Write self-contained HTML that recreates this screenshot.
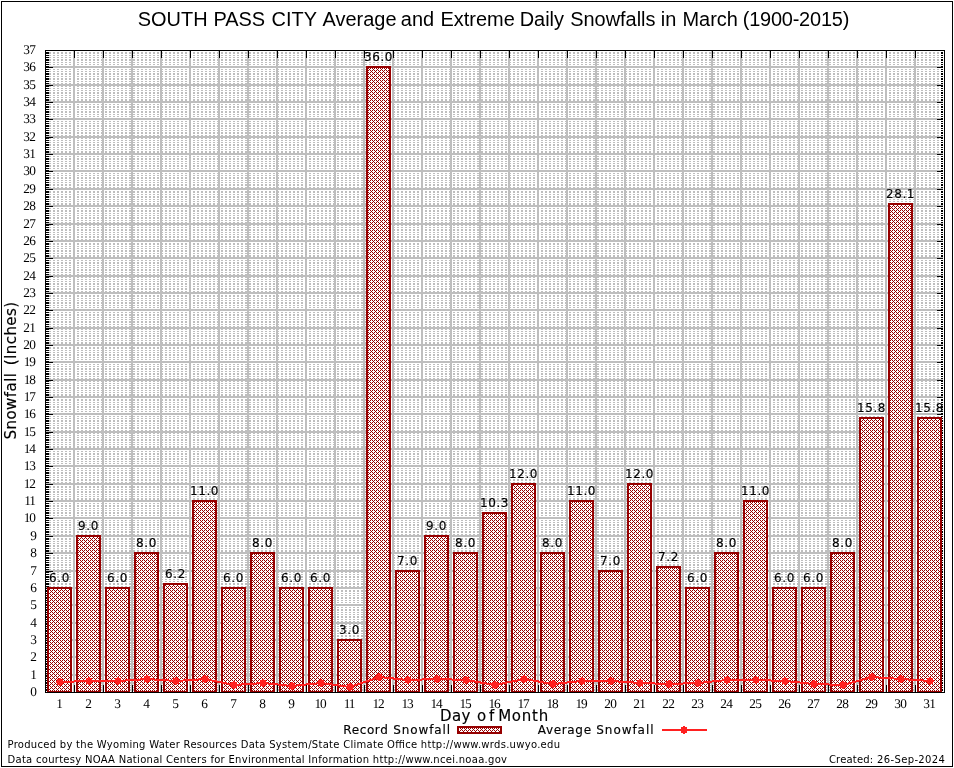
<!DOCTYPE html>
<html lang="en"><head><meta charset="utf-8"><title>SOUTH PASS CITY Average and Extreme Daily Snowfalls in March (1900-2015)</title>
<style>html,body{margin:0;padding:0;background:#fff;}svg{display:block;}text{fill:#000;}</style></head><body>
<svg width="954" height="768" viewBox="0 0 954 768">
<defs><pattern id="hatch" x="0" y="0" width="4" height="4" patternUnits="userSpaceOnUse"><path d="M0 0h1v1h-1zM2 0h1v1h-1zM1 1h1v1h-1zM0 2h1v1h-1zM2 2h1v1h-1zM3 3h1v1h-1z" fill="#960000"/></pattern></defs>
<rect width="954" height="768" fill="#fff"/>
<g shape-rendering="crispEdges">
<path d="M1.5 1.5H952.5V766.5H1.5Z" fill="none" stroke="#000" stroke-width="1"/>
<path d="M45 690.5H944M45 689.5H944M45 687.5H944M45 685.5H944M45 683.5H944M45 682.5H944M45 680.5H944M45 678.5H944M45 676.5H944M45 673.5H944M45 671.5H944M45 669.5H944M45 668.5H944M45 666.5H944M45 664.5H944M45 663.5H944M45 661.5H944M45 659.5H944M45 656.5H944M45 654.5H944M45 652.5H944M45 650.5H944M45 649.5H944M45 647.5H944M45 645.5H944M45 643.5H944M45 642.5H944M45 638.5H944M45 636.5H944M45 635.5H944M45 633.5H944M45 631.5H944M45 630.5H944M45 628.5H944M45 626.5H944M45 624.5H944M45 621.5H944M45 619.5H944M45 617.5H944M45 616.5H944M45 614.5H944M45 612.5H944M45 610.5H944M45 609.5H944M45 607.5H944M45 604.5H944M45 602.5H944M45 600.5H944M45 598.5H944M45 597.5H944M45 595.5H944M45 593.5H944M45 591.5H944M45 590.5H944M45 586.5H944M45 584.5H944M45 583.5H944M45 581.5H944M45 579.5H944M45 577.5H944M45 576.5H944M45 574.5H944M45 572.5H944M45 569.5H944M45 567.5H944M45 565.5H944M45 564.5H944M45 562.5H944M45 560.5H944M45 558.5H944M45 557.5H944M45 555.5H944M45 551.5H944M45 550.5H944M45 548.5H944M45 546.5H944M45 545.5H944M45 543.5H944M45 541.5H944M45 539.5H944M45 538.5H944M45 534.5H944M45 532.5H944M45 531.5H944M45 529.5H944M45 527.5H944M45 525.5H944M45 524.5H944M45 522.5H944M45 520.5H944M45 517.5H944M45 515.5H944M45 513.5H944M45 512.5H944M45 510.5H944M45 508.5H944M45 506.5H944M45 505.5H944M45 503.5H944M45 499.5H944M45 498.5H944M45 496.5H944M45 494.5H944M45 492.5H944M45 491.5H944M45 489.5H944M45 487.5H944M45 486.5H944M45 482.5H944M45 480.5H944M45 479.5H944M45 477.5H944M45 475.5H944M45 473.5H944M45 472.5H944M45 470.5H944M45 468.5H944M45 465.5H944M45 463.5H944M45 461.5H944M45 459.5H944M45 458.5H944M45 456.5H944M45 454.5H944M45 453.5H944M45 451.5H944M45 447.5H944M45 446.5H944M45 444.5H944M45 442.5H944M45 440.5H944M45 439.5H944M45 437.5H944M45 435.5H944M45 433.5H944M45 430.5H944M45 428.5H944M45 427.5H944M45 425.5H944M45 423.5H944M45 421.5H944M45 420.5H944M45 418.5H944M45 416.5H944M45 413.5H944M45 411.5H944M45 409.5H944M45 407.5H944M45 406.5H944M45 404.5H944M45 402.5H944M45 400.5H944M45 399.5H944M45 395.5H944M45 394.5H944M45 392.5H944M45 390.5H944M45 388.5H944M45 387.5H944M45 385.5H944M45 383.5H944M45 381.5H944M45 378.5H944M45 376.5H944M45 374.5H944M45 373.5H944M45 371.5H944M45 369.5H944M45 368.5H944M45 366.5H944M45 364.5H944M45 361.5H944M45 359.5H944M45 357.5H944M45 355.5H944M45 354.5H944M45 352.5H944M45 350.5H944M45 348.5H944M45 347.5H944M45 343.5H944M45 342.5H944M45 340.5H944M45 338.5H944M45 336.5H944M45 335.5H944M45 333.5H944M45 331.5H944M45 329.5H944M45 326.5H944M45 324.5H944M45 322.5H944M45 321.5H944M45 319.5H944M45 317.5H944M45 315.5H944M45 314.5H944M45 312.5H944M45 309.5H944M45 307.5H944M45 305.5H944M45 303.5H944M45 302.5H944M45 300.5H944M45 298.5H944M45 296.5H944M45 295.5H944M45 291.5H944M45 289.5H944M45 288.5H944M45 286.5H944M45 284.5H944M45 283.5H944M45 281.5H944M45 279.5H944M45 277.5H944M45 274.5H944M45 272.5H944M45 270.5H944M45 269.5H944M45 267.5H944M45 265.5H944M45 263.5H944M45 262.5H944M45 260.5H944M45 256.5H944M45 255.5H944M45 253.5H944M45 251.5H944M45 250.5H944M45 248.5H944M45 246.5H944M45 244.5H944M45 243.5H944M45 239.5H944M45 237.5H944M45 236.5H944M45 234.5H944M45 232.5H944M45 230.5H944M45 229.5H944M45 227.5H944M45 225.5H944M45 222.5H944M45 220.5H944M45 218.5H944M45 217.5H944M45 215.5H944M45 213.5H944M45 211.5H944M45 210.5H944M45 208.5H944M45 204.5H944M45 203.5H944M45 201.5H944M45 199.5H944M45 197.5H944M45 196.5H944M45 194.5H944M45 192.5H944M45 191.5H944M45 187.5H944M45 185.5H944M45 184.5H944M45 182.5H944M45 180.5H944M45 178.5H944M45 177.5H944M45 175.5H944M45 173.5H944M45 170.5H944M45 168.5H944M45 166.5H944M45 165.5H944M45 163.5H944M45 161.5H944M45 159.5H944M45 158.5H944M45 156.5H944M45 152.5H944M45 151.5H944M45 149.5H944M45 147.5H944M45 145.5H944M45 144.5H944M45 142.5H944M45 140.5H944M45 138.5H944M45 135.5H944M45 133.5H944M45 132.5H944M45 130.5H944M45 128.5H944M45 126.5H944M45 125.5H944M45 123.5H944M45 121.5H944M45 118.5H944M45 116.5H944M45 114.5H944M45 112.5H944M45 111.5H944M45 109.5H944M45 107.5H944M45 106.5H944M45 104.5H944M45 100.5H944M45 99.5H944M45 97.5H944M45 95.5H944M45 93.5H944M45 92.5H944M45 90.5H944M45 88.5H944M45 86.5H944M45 83.5H944M45 81.5H944M45 79.5H944M45 78.5H944M45 76.5H944M45 74.5H944M45 73.5H944M45 71.5H944M45 69.5H944M45 66.5H944M45 64.5H944M45 62.5H944M45 60.5H944M45 59.5H944M45 57.5H944M45 55.5H944M45 53.5H944M45 52.5H944" fill="none" stroke="#bebebe" stroke-width="1" stroke-dasharray="2 2"/>
<path d="M45 675H944M45 657H944M45 640H944M45 623H944M45 605H944M45 588H944M45 571H944M45 553H944M45 536H944M45 518H944M45 501H944M45 484H944M45 466H944M45 449H944M45 432H944M45 414H944M45 397H944M45 380H944M45 362H944M45 345H944M45 328H944M45 310H944M45 293H944M45 276H944M45 258H944M45 241H944M45 224H944M45 206H944M45 189H944M45 171H944M45 154H944M45 137H944M45 119H944M45 102H944M45 85H944M45 67H944M74 50V692M103 50V692M132 50V692M161 50V692M190 50V692M219 50V692M248 50V692M277 50V692M306 50V692M335 50V692M364 50V692M393 50V692M422 50V692M451 50V692M480 50V692M509 50V692M538 50V692M567 50V692M596 50V692M625 50V692M654 50V692M683 50V692M712 50V692M741 50V692M770 50V692M799 50V692M828 50V692M857 50V692M886 50V692M915 50V692" fill="none" stroke="#bebebe" stroke-width="2"/>
<path d="M46 690.5h3M941 690.5h2M46 689.5h3M941 689.5h2M46 687.5h3M941 687.5h2M46 685.5h3M941 685.5h2M46 683.5h3M941 683.5h2M46 682.5h3M941 682.5h2M46 680.5h3M941 680.5h2M46 678.5h3M941 678.5h2M46 676.5h3M941 676.5h2M46 673.5h3M941 673.5h2M46 671.5h3M941 671.5h2M46 669.5h3M941 669.5h2M46 668.5h3M941 668.5h2M46 666.5h3M941 666.5h2M46 664.5h3M941 664.5h2M46 663.5h3M941 663.5h2M46 661.5h3M941 661.5h2M46 659.5h3M941 659.5h2M46 656.5h3M941 656.5h2M46 654.5h3M941 654.5h2M46 652.5h3M941 652.5h2M46 650.5h3M941 650.5h2M46 649.5h3M941 649.5h2M46 647.5h3M941 647.5h2M46 645.5h3M941 645.5h2M46 643.5h3M941 643.5h2M46 642.5h3M941 642.5h2M46 638.5h3M941 638.5h2M46 636.5h3M941 636.5h2M46 635.5h3M941 635.5h2M46 633.5h3M941 633.5h2M46 631.5h3M941 631.5h2M46 630.5h3M941 630.5h2M46 628.5h3M941 628.5h2M46 626.5h3M941 626.5h2M46 624.5h3M941 624.5h2M46 621.5h3M941 621.5h2M46 619.5h3M941 619.5h2M46 617.5h3M941 617.5h2M46 616.5h3M941 616.5h2M46 614.5h3M941 614.5h2M46 612.5h3M941 612.5h2M46 610.5h3M941 610.5h2M46 609.5h3M941 609.5h2M46 607.5h3M941 607.5h2M46 604.5h3M941 604.5h2M46 602.5h3M941 602.5h2M46 600.5h3M941 600.5h2M46 598.5h3M941 598.5h2M46 597.5h3M941 597.5h2M46 595.5h3M941 595.5h2M46 593.5h3M941 593.5h2M46 591.5h3M941 591.5h2M46 590.5h3M941 590.5h2M46 586.5h3M941 586.5h2M46 584.5h3M941 584.5h2M46 583.5h3M941 583.5h2M46 581.5h3M941 581.5h2M46 579.5h3M941 579.5h2M46 577.5h3M941 577.5h2M46 576.5h3M941 576.5h2M46 574.5h3M941 574.5h2M46 572.5h3M941 572.5h2M46 569.5h3M941 569.5h2M46 567.5h3M941 567.5h2M46 565.5h3M941 565.5h2M46 564.5h3M941 564.5h2M46 562.5h3M941 562.5h2M46 560.5h3M941 560.5h2M46 558.5h3M941 558.5h2M46 557.5h3M941 557.5h2M46 555.5h3M941 555.5h2M46 551.5h3M941 551.5h2M46 550.5h3M941 550.5h2M46 548.5h3M941 548.5h2M46 546.5h3M941 546.5h2M46 545.5h3M941 545.5h2M46 543.5h3M941 543.5h2M46 541.5h3M941 541.5h2M46 539.5h3M941 539.5h2M46 538.5h3M941 538.5h2M46 534.5h3M941 534.5h2M46 532.5h3M941 532.5h2M46 531.5h3M941 531.5h2M46 529.5h3M941 529.5h2M46 527.5h3M941 527.5h2M46 525.5h3M941 525.5h2M46 524.5h3M941 524.5h2M46 522.5h3M941 522.5h2M46 520.5h3M941 520.5h2M46 517.5h3M941 517.5h2M46 515.5h3M941 515.5h2M46 513.5h3M941 513.5h2M46 512.5h3M941 512.5h2M46 510.5h3M941 510.5h2M46 508.5h3M941 508.5h2M46 506.5h3M941 506.5h2M46 505.5h3M941 505.5h2M46 503.5h3M941 503.5h2M46 499.5h3M941 499.5h2M46 498.5h3M941 498.5h2M46 496.5h3M941 496.5h2M46 494.5h3M941 494.5h2M46 492.5h3M941 492.5h2M46 491.5h3M941 491.5h2M46 489.5h3M941 489.5h2M46 487.5h3M941 487.5h2M46 486.5h3M941 486.5h2M46 482.5h3M941 482.5h2M46 480.5h3M941 480.5h2M46 479.5h3M941 479.5h2M46 477.5h3M941 477.5h2M46 475.5h3M941 475.5h2M46 473.5h3M941 473.5h2M46 472.5h3M941 472.5h2M46 470.5h3M941 470.5h2M46 468.5h3M941 468.5h2M46 465.5h3M941 465.5h2M46 463.5h3M941 463.5h2M46 461.5h3M941 461.5h2M46 459.5h3M941 459.5h2M46 458.5h3M941 458.5h2M46 456.5h3M941 456.5h2M46 454.5h3M941 454.5h2M46 453.5h3M941 453.5h2M46 451.5h3M941 451.5h2M46 447.5h3M941 447.5h2M46 446.5h3M941 446.5h2M46 444.5h3M941 444.5h2M46 442.5h3M941 442.5h2M46 440.5h3M941 440.5h2M46 439.5h3M941 439.5h2M46 437.5h3M941 437.5h2M46 435.5h3M941 435.5h2M46 433.5h3M941 433.5h2M46 430.5h3M941 430.5h2M46 428.5h3M941 428.5h2M46 427.5h3M941 427.5h2M46 425.5h3M941 425.5h2M46 423.5h3M941 423.5h2M46 421.5h3M941 421.5h2M46 420.5h3M941 420.5h2M46 418.5h3M941 418.5h2M46 416.5h3M941 416.5h2M46 413.5h3M941 413.5h2M46 411.5h3M941 411.5h2M46 409.5h3M941 409.5h2M46 407.5h3M941 407.5h2M46 406.5h3M941 406.5h2M46 404.5h3M941 404.5h2M46 402.5h3M941 402.5h2M46 400.5h3M941 400.5h2M46 399.5h3M941 399.5h2M46 395.5h3M941 395.5h2M46 394.5h3M941 394.5h2M46 392.5h3M941 392.5h2M46 390.5h3M941 390.5h2M46 388.5h3M941 388.5h2M46 387.5h3M941 387.5h2M46 385.5h3M941 385.5h2M46 383.5h3M941 383.5h2M46 381.5h3M941 381.5h2M46 378.5h3M941 378.5h2M46 376.5h3M941 376.5h2M46 374.5h3M941 374.5h2M46 373.5h3M941 373.5h2M46 371.5h3M941 371.5h2M46 369.5h3M941 369.5h2M46 368.5h3M941 368.5h2M46 366.5h3M941 366.5h2M46 364.5h3M941 364.5h2M46 361.5h3M941 361.5h2M46 359.5h3M941 359.5h2M46 357.5h3M941 357.5h2M46 355.5h3M941 355.5h2M46 354.5h3M941 354.5h2M46 352.5h3M941 352.5h2M46 350.5h3M941 350.5h2M46 348.5h3M941 348.5h2M46 347.5h3M941 347.5h2M46 343.5h3M941 343.5h2M46 342.5h3M941 342.5h2M46 340.5h3M941 340.5h2M46 338.5h3M941 338.5h2M46 336.5h3M941 336.5h2M46 335.5h3M941 335.5h2M46 333.5h3M941 333.5h2M46 331.5h3M941 331.5h2M46 329.5h3M941 329.5h2M46 326.5h3M941 326.5h2M46 324.5h3M941 324.5h2M46 322.5h3M941 322.5h2M46 321.5h3M941 321.5h2M46 319.5h3M941 319.5h2M46 317.5h3M941 317.5h2M46 315.5h3M941 315.5h2M46 314.5h3M941 314.5h2M46 312.5h3M941 312.5h2M46 309.5h3M941 309.5h2M46 307.5h3M941 307.5h2M46 305.5h3M941 305.5h2M46 303.5h3M941 303.5h2M46 302.5h3M941 302.5h2M46 300.5h3M941 300.5h2M46 298.5h3M941 298.5h2M46 296.5h3M941 296.5h2M46 295.5h3M941 295.5h2M46 291.5h3M941 291.5h2M46 289.5h3M941 289.5h2M46 288.5h3M941 288.5h2M46 286.5h3M941 286.5h2M46 284.5h3M941 284.5h2M46 283.5h3M941 283.5h2M46 281.5h3M941 281.5h2M46 279.5h3M941 279.5h2M46 277.5h3M941 277.5h2M46 274.5h3M941 274.5h2M46 272.5h3M941 272.5h2M46 270.5h3M941 270.5h2M46 269.5h3M941 269.5h2M46 267.5h3M941 267.5h2M46 265.5h3M941 265.5h2M46 263.5h3M941 263.5h2M46 262.5h3M941 262.5h2M46 260.5h3M941 260.5h2M46 256.5h3M941 256.5h2M46 255.5h3M941 255.5h2M46 253.5h3M941 253.5h2M46 251.5h3M941 251.5h2M46 250.5h3M941 250.5h2M46 248.5h3M941 248.5h2M46 246.5h3M941 246.5h2M46 244.5h3M941 244.5h2M46 243.5h3M941 243.5h2M46 239.5h3M941 239.5h2M46 237.5h3M941 237.5h2M46 236.5h3M941 236.5h2M46 234.5h3M941 234.5h2M46 232.5h3M941 232.5h2M46 230.5h3M941 230.5h2M46 229.5h3M941 229.5h2M46 227.5h3M941 227.5h2M46 225.5h3M941 225.5h2M46 222.5h3M941 222.5h2M46 220.5h3M941 220.5h2M46 218.5h3M941 218.5h2M46 217.5h3M941 217.5h2M46 215.5h3M941 215.5h2M46 213.5h3M941 213.5h2M46 211.5h3M941 211.5h2M46 210.5h3M941 210.5h2M46 208.5h3M941 208.5h2M46 204.5h3M941 204.5h2M46 203.5h3M941 203.5h2M46 201.5h3M941 201.5h2M46 199.5h3M941 199.5h2M46 197.5h3M941 197.5h2M46 196.5h3M941 196.5h2M46 194.5h3M941 194.5h2M46 192.5h3M941 192.5h2M46 191.5h3M941 191.5h2M46 187.5h3M941 187.5h2M46 185.5h3M941 185.5h2M46 184.5h3M941 184.5h2M46 182.5h3M941 182.5h2M46 180.5h3M941 180.5h2M46 178.5h3M941 178.5h2M46 177.5h3M941 177.5h2M46 175.5h3M941 175.5h2M46 173.5h3M941 173.5h2M46 170.5h3M941 170.5h2M46 168.5h3M941 168.5h2M46 166.5h3M941 166.5h2M46 165.5h3M941 165.5h2M46 163.5h3M941 163.5h2M46 161.5h3M941 161.5h2M46 159.5h3M941 159.5h2M46 158.5h3M941 158.5h2M46 156.5h3M941 156.5h2M46 152.5h3M941 152.5h2M46 151.5h3M941 151.5h2M46 149.5h3M941 149.5h2M46 147.5h3M941 147.5h2M46 145.5h3M941 145.5h2M46 144.5h3M941 144.5h2M46 142.5h3M941 142.5h2M46 140.5h3M941 140.5h2M46 138.5h3M941 138.5h2M46 135.5h3M941 135.5h2M46 133.5h3M941 133.5h2M46 132.5h3M941 132.5h2M46 130.5h3M941 130.5h2M46 128.5h3M941 128.5h2M46 126.5h3M941 126.5h2M46 125.5h3M941 125.5h2M46 123.5h3M941 123.5h2M46 121.5h3M941 121.5h2M46 118.5h3M941 118.5h2M46 116.5h3M941 116.5h2M46 114.5h3M941 114.5h2M46 112.5h3M941 112.5h2M46 111.5h3M941 111.5h2M46 109.5h3M941 109.5h2M46 107.5h3M941 107.5h2M46 106.5h3M941 106.5h2M46 104.5h3M941 104.5h2M46 100.5h3M941 100.5h2M46 99.5h3M941 99.5h2M46 97.5h3M941 97.5h2M46 95.5h3M941 95.5h2M46 93.5h3M941 93.5h2M46 92.5h3M941 92.5h2M46 90.5h3M941 90.5h2M46 88.5h3M941 88.5h2M46 86.5h3M941 86.5h2M46 83.5h3M941 83.5h2M46 81.5h3M941 81.5h2M46 79.5h3M941 79.5h2M46 78.5h3M941 78.5h2M46 76.5h3M941 76.5h2M46 74.5h3M941 74.5h2M46 73.5h3M941 73.5h2M46 71.5h3M941 71.5h2M46 69.5h3M941 69.5h2M46 66.5h3M941 66.5h2M46 64.5h3M941 64.5h2M46 62.5h3M941 62.5h2M46 60.5h3M941 60.5h2M46 59.5h3M941 59.5h2M46 57.5h3M941 57.5h2M46 55.5h3M941 55.5h2M46 53.5h3M941 53.5h2M46 52.5h3M941 52.5h2M46 675.5h7M937 675.5h6M46 657.5h7M937 657.5h6M46 640.5h7M937 640.5h6M46 623.5h7M937 623.5h6M46 605.5h7M937 605.5h6M46 588.5h7M937 588.5h6M46 571.5h7M937 571.5h6M46 553.5h7M937 553.5h6M46 536.5h7M937 536.5h6M46 518.5h7M937 518.5h6M46 501.5h7M937 501.5h6M46 484.5h7M937 484.5h6M46 466.5h7M937 466.5h6M46 449.5h7M937 449.5h6M46 432.5h7M937 432.5h6M46 414.5h7M937 414.5h6M46 397.5h7M937 397.5h6M46 380.5h7M937 380.5h6M46 362.5h7M937 362.5h6M46 345.5h7M937 345.5h6M46 328.5h7M937 328.5h6M46 310.5h7M937 310.5h6M46 293.5h7M937 293.5h6M46 276.5h7M937 276.5h6M46 258.5h7M937 258.5h6M46 241.5h7M937 241.5h6M46 224.5h7M937 224.5h6M46 206.5h7M937 206.5h6M46 189.5h7M937 189.5h6M46 171.5h7M937 171.5h6M46 154.5h7M937 154.5h6M46 137.5h7M937 137.5h6M46 119.5h7M937 119.5h6M46 102.5h7M937 102.5h6M46 85.5h7M937 85.5h6M46 67.5h7M937 67.5h6M74.5 685v7M74.5 51v7M103.5 685v7M103.5 51v7M132.5 685v7M132.5 51v7M161.5 685v7M161.5 51v7M190.5 685v7M190.5 51v7M219.5 685v7M219.5 51v7M248.5 685v7M248.5 51v7M277.5 685v7M277.5 51v7M306.5 685v7M306.5 51v7M335.5 685v7M335.5 51v7M364.5 685v7M364.5 51v7M393.5 685v7M393.5 51v7M422.5 685v7M422.5 51v7M451.5 685v7M451.5 51v7M480.5 685v7M480.5 51v7M509.5 685v7M509.5 51v7M538.5 685v7M538.5 51v7M567.5 685v7M567.5 51v7M596.5 685v7M596.5 51v7M625.5 685v7M625.5 51v7M654.5 685v7M654.5 51v7M683.5 685v7M683.5 51v7M712.5 685v7M712.5 51v7M741.5 685v7M741.5 51v7M770.5 685v7M770.5 51v7M799.5 685v7M799.5 51v7M828.5 685v7M828.5 51v7M857.5 685v7M857.5 51v7M886.5 685v7M886.5 51v7M915.5 685v7M915.5 51v7" fill="none" stroke="#000" stroke-width="1"/>
<path d="M943.5 51V692" fill="none" stroke="#fff" stroke-width="1"/>
<rect x="47" y="587" width="25" height="106" fill="#fff"/>
<rect x="47" y="587" width="25" height="106" fill="url(#hatch)"/>
<path d="M48 588H71V692H48Z" fill="none" stroke="#960000" stroke-width="2"/>
<rect x="76" y="535" width="25" height="158" fill="#fff"/>
<rect x="76" y="535" width="25" height="158" fill="url(#hatch)"/>
<path d="M77 536H100V692H77Z" fill="none" stroke="#960000" stroke-width="2"/>
<rect x="105" y="587" width="25" height="106" fill="#fff"/>
<rect x="105" y="587" width="25" height="106" fill="url(#hatch)"/>
<path d="M106 588H129V692H106Z" fill="none" stroke="#960000" stroke-width="2"/>
<rect x="134" y="552" width="25" height="141" fill="#fff"/>
<rect x="134" y="552" width="25" height="141" fill="url(#hatch)"/>
<path d="M135 553H158V692H135Z" fill="none" stroke="#960000" stroke-width="2"/>
<rect x="163" y="583" width="25" height="110" fill="#fff"/>
<rect x="163" y="583" width="25" height="110" fill="url(#hatch)"/>
<path d="M164 584H187V692H164Z" fill="none" stroke="#960000" stroke-width="2"/>
<rect x="192" y="500" width="25" height="193" fill="#fff"/>
<rect x="192" y="500" width="25" height="193" fill="url(#hatch)"/>
<path d="M193 501H216V692H193Z" fill="none" stroke="#960000" stroke-width="2"/>
<rect x="221" y="587" width="25" height="106" fill="#fff"/>
<rect x="221" y="587" width="25" height="106" fill="url(#hatch)"/>
<path d="M222 588H245V692H222Z" fill="none" stroke="#960000" stroke-width="2"/>
<rect x="250" y="552" width="25" height="141" fill="#fff"/>
<rect x="250" y="552" width="25" height="141" fill="url(#hatch)"/>
<path d="M251 553H274V692H251Z" fill="none" stroke="#960000" stroke-width="2"/>
<rect x="279" y="587" width="25" height="106" fill="#fff"/>
<rect x="279" y="587" width="25" height="106" fill="url(#hatch)"/>
<path d="M280 588H303V692H280Z" fill="none" stroke="#960000" stroke-width="2"/>
<rect x="308" y="587" width="25" height="106" fill="#fff"/>
<rect x="308" y="587" width="25" height="106" fill="url(#hatch)"/>
<path d="M309 588H332V692H309Z" fill="none" stroke="#960000" stroke-width="2"/>
<rect x="337" y="639" width="25" height="54" fill="#fff"/>
<rect x="337" y="639" width="25" height="54" fill="url(#hatch)"/>
<path d="M338 640H361V692H338Z" fill="none" stroke="#960000" stroke-width="2"/>
<rect x="366" y="66" width="25" height="627" fill="#fff"/>
<rect x="366" y="66" width="25" height="627" fill="url(#hatch)"/>
<path d="M367 67H390V692H367Z" fill="none" stroke="#960000" stroke-width="2"/>
<rect x="395" y="570" width="25" height="123" fill="#fff"/>
<rect x="395" y="570" width="25" height="123" fill="url(#hatch)"/>
<path d="M396 571H419V692H396Z" fill="none" stroke="#960000" stroke-width="2"/>
<rect x="424" y="535" width="25" height="158" fill="#fff"/>
<rect x="424" y="535" width="25" height="158" fill="url(#hatch)"/>
<path d="M425 536H448V692H425Z" fill="none" stroke="#960000" stroke-width="2"/>
<rect x="453" y="552" width="25" height="141" fill="#fff"/>
<rect x="453" y="552" width="25" height="141" fill="url(#hatch)"/>
<path d="M454 553H477V692H454Z" fill="none" stroke="#960000" stroke-width="2"/>
<rect x="482" y="512" width="25" height="181" fill="#fff"/>
<rect x="482" y="512" width="25" height="181" fill="url(#hatch)"/>
<path d="M483 513H506V692H483Z" fill="none" stroke="#960000" stroke-width="2"/>
<rect x="511" y="483" width="25" height="210" fill="#fff"/>
<rect x="511" y="483" width="25" height="210" fill="url(#hatch)"/>
<path d="M512 484H535V692H512Z" fill="none" stroke="#960000" stroke-width="2"/>
<rect x="540" y="552" width="25" height="141" fill="#fff"/>
<rect x="540" y="552" width="25" height="141" fill="url(#hatch)"/>
<path d="M541 553H564V692H541Z" fill="none" stroke="#960000" stroke-width="2"/>
<rect x="569" y="500" width="25" height="193" fill="#fff"/>
<rect x="569" y="500" width="25" height="193" fill="url(#hatch)"/>
<path d="M570 501H593V692H570Z" fill="none" stroke="#960000" stroke-width="2"/>
<rect x="598" y="570" width="25" height="123" fill="#fff"/>
<rect x="598" y="570" width="25" height="123" fill="url(#hatch)"/>
<path d="M599 571H622V692H599Z" fill="none" stroke="#960000" stroke-width="2"/>
<rect x="627" y="483" width="25" height="210" fill="#fff"/>
<rect x="627" y="483" width="25" height="210" fill="url(#hatch)"/>
<path d="M628 484H651V692H628Z" fill="none" stroke="#960000" stroke-width="2"/>
<rect x="656" y="566" width="25" height="127" fill="#fff"/>
<rect x="656" y="566" width="25" height="127" fill="url(#hatch)"/>
<path d="M657 567H680V692H657Z" fill="none" stroke="#960000" stroke-width="2"/>
<rect x="685" y="587" width="25" height="106" fill="#fff"/>
<rect x="685" y="587" width="25" height="106" fill="url(#hatch)"/>
<path d="M686 588H709V692H686Z" fill="none" stroke="#960000" stroke-width="2"/>
<rect x="714" y="552" width="25" height="141" fill="#fff"/>
<rect x="714" y="552" width="25" height="141" fill="url(#hatch)"/>
<path d="M715 553H738V692H715Z" fill="none" stroke="#960000" stroke-width="2"/>
<rect x="743" y="500" width="25" height="193" fill="#fff"/>
<rect x="743" y="500" width="25" height="193" fill="url(#hatch)"/>
<path d="M744 501H767V692H744Z" fill="none" stroke="#960000" stroke-width="2"/>
<rect x="772" y="587" width="25" height="106" fill="#fff"/>
<rect x="772" y="587" width="25" height="106" fill="url(#hatch)"/>
<path d="M773 588H796V692H773Z" fill="none" stroke="#960000" stroke-width="2"/>
<rect x="801" y="587" width="25" height="106" fill="#fff"/>
<rect x="801" y="587" width="25" height="106" fill="url(#hatch)"/>
<path d="M802 588H825V692H802Z" fill="none" stroke="#960000" stroke-width="2"/>
<rect x="830" y="552" width="25" height="141" fill="#fff"/>
<rect x="830" y="552" width="25" height="141" fill="url(#hatch)"/>
<path d="M831 553H854V692H831Z" fill="none" stroke="#960000" stroke-width="2"/>
<rect x="859" y="417" width="25" height="276" fill="#fff"/>
<rect x="859" y="417" width="25" height="276" fill="url(#hatch)"/>
<path d="M860 418H883V692H860Z" fill="none" stroke="#960000" stroke-width="2"/>
<rect x="888" y="203" width="25" height="490" fill="#fff"/>
<rect x="888" y="203" width="25" height="490" fill="url(#hatch)"/>
<path d="M889 204H912V692H889Z" fill="none" stroke="#960000" stroke-width="2"/>
<rect x="917" y="417" width="25" height="276" fill="#fff"/>
<rect x="917" y="417" width="25" height="276" fill="url(#hatch)"/>
<path d="M918 418H941V692H918Z" fill="none" stroke="#960000" stroke-width="2"/>
</g>
<g font-family="'DejaVu Sans', 'Liberation Sans', sans-serif" font-size="12" text-anchor="middle" letter-spacing="0.6" stroke="#000" stroke-width="0.15">
<text x="59.55" y="582">6.0</text>
<text x="88.55" y="530">9.0</text>
<text x="117.55" y="582">6.0</text>
<text x="146.55" y="547">8.0</text>
<text x="175.55" y="578">6.2</text>
<text x="204.55" y="495">11.0</text>
<text x="233.55" y="582">6.0</text>
<text x="262.55" y="547">8.0</text>
<text x="291.55" y="582">6.0</text>
<text x="320.55" y="582">6.0</text>
<text x="349.55" y="634">3.0</text>
<text x="378.55" y="61">36.0</text>
<text x="407.55" y="565">7.0</text>
<text x="436.55" y="530">9.0</text>
<text x="465.55" y="547">8.0</text>
<text x="494.55" y="507">10.3</text>
<text x="523.55" y="478">12.0</text>
<text x="552.55" y="547">8.0</text>
<text x="581.55" y="495">11.0</text>
<text x="610.55" y="565">7.0</text>
<text x="639.55" y="478">12.0</text>
<text x="668.55" y="561">7.2</text>
<text x="697.55" y="582">6.0</text>
<text x="726.55" y="547">8.0</text>
<text x="755.55" y="495">11.0</text>
<text x="784.55" y="582">6.0</text>
<text x="813.55" y="582">6.0</text>
<text x="842.55" y="547">8.0</text>
<text x="871.55" y="412">15.8</text>
<text x="900.55" y="198">28.1</text>
<text x="929.55" y="412">15.8</text>
</g>
<polyline points="60,682 89,681 118,681 147,679 176,681 205,679 234,685 263,683 292,686 321,683 350,687 379,677 408,680 437,679 466,680 495,685 524,679 553,684 582,681 611,681 640,683 669,684 698,683 727,680 756,680 785,681 814,684 843,685 872,677 901,679 930,681" fill="none" stroke="#ff2020" stroke-width="2" shape-rendering="crispEdges"/>
<path d="M59 678h2v1h2v2h1v2h-1v2h-2v1h-2v-1h-2v-2h-1v-2h1v-2h2zM88 677h2v1h2v2h1v2h-1v2h-2v1h-2v-1h-2v-2h-1v-2h1v-2h2zM117 677h2v1h2v2h1v2h-1v2h-2v1h-2v-1h-2v-2h-1v-2h1v-2h2zM146 675h2v1h2v2h1v2h-1v2h-2v1h-2v-1h-2v-2h-1v-2h1v-2h2zM175 677h2v1h2v2h1v2h-1v2h-2v1h-2v-1h-2v-2h-1v-2h1v-2h2zM204 675h2v1h2v2h1v2h-1v2h-2v1h-2v-1h-2v-2h-1v-2h1v-2h2zM233 681h2v1h2v2h1v2h-1v2h-2v1h-2v-1h-2v-2h-1v-2h1v-2h2zM262 679h2v1h2v2h1v2h-1v2h-2v1h-2v-1h-2v-2h-1v-2h1v-2h2zM291 682h2v1h2v2h1v2h-1v2h-2v1h-2v-1h-2v-2h-1v-2h1v-2h2zM320 679h2v1h2v2h1v2h-1v2h-2v1h-2v-1h-2v-2h-1v-2h1v-2h2zM349 683h2v1h2v2h1v2h-1v2h-2v1h-2v-1h-2v-2h-1v-2h1v-2h2zM378 673h2v1h2v2h1v2h-1v2h-2v1h-2v-1h-2v-2h-1v-2h1v-2h2zM407 676h2v1h2v2h1v2h-1v2h-2v1h-2v-1h-2v-2h-1v-2h1v-2h2zM436 675h2v1h2v2h1v2h-1v2h-2v1h-2v-1h-2v-2h-1v-2h1v-2h2zM465 676h2v1h2v2h1v2h-1v2h-2v1h-2v-1h-2v-2h-1v-2h1v-2h2zM494 681h2v1h2v2h1v2h-1v2h-2v1h-2v-1h-2v-2h-1v-2h1v-2h2zM523 675h2v1h2v2h1v2h-1v2h-2v1h-2v-1h-2v-2h-1v-2h1v-2h2zM552 680h2v1h2v2h1v2h-1v2h-2v1h-2v-1h-2v-2h-1v-2h1v-2h2zM581 677h2v1h2v2h1v2h-1v2h-2v1h-2v-1h-2v-2h-1v-2h1v-2h2zM610 677h2v1h2v2h1v2h-1v2h-2v1h-2v-1h-2v-2h-1v-2h1v-2h2zM639 679h2v1h2v2h1v2h-1v2h-2v1h-2v-1h-2v-2h-1v-2h1v-2h2zM668 680h2v1h2v2h1v2h-1v2h-2v1h-2v-1h-2v-2h-1v-2h1v-2h2zM697 679h2v1h2v2h1v2h-1v2h-2v1h-2v-1h-2v-2h-1v-2h1v-2h2zM726 676h2v1h2v2h1v2h-1v2h-2v1h-2v-1h-2v-2h-1v-2h1v-2h2zM755 676h2v1h2v2h1v2h-1v2h-2v1h-2v-1h-2v-2h-1v-2h1v-2h2zM784 677h2v1h2v2h1v2h-1v2h-2v1h-2v-1h-2v-2h-1v-2h1v-2h2zM813 680h2v1h2v2h1v2h-1v2h-2v1h-2v-1h-2v-2h-1v-2h1v-2h2zM842 681h2v1h2v2h1v2h-1v2h-2v1h-2v-1h-2v-2h-1v-2h1v-2h2zM871 673h2v1h2v2h1v2h-1v2h-2v1h-2v-1h-2v-2h-1v-2h1v-2h2zM900 675h2v1h2v2h1v2h-1v2h-2v1h-2v-1h-2v-2h-1v-2h1v-2h2zM929 677h2v1h2v2h1v2h-1v2h-2v1h-2v-1h-2v-2h-1v-2h1v-2h2z" fill="#ff2020" shape-rendering="crispEdges"/>
<path d="M45.5 50.5H944.5V692.5H45.5Z" fill="none" stroke="#000" stroke-width="1" shape-rendering="crispEdges"/>
<g font-family="'Liberation Serif', serif" font-size="13.33" text-anchor="end" text-rendering="geometricPrecision">
<text x="37" y="696">0</text>
<text x="37" y="679">1</text>
<text x="37" y="661">2</text>
<text x="37" y="644">3</text>
<text x="37" y="627">4</text>
<text x="37" y="609">5</text>
<text x="37" y="592">6</text>
<text x="37" y="575">7</text>
<text x="37" y="557">8</text>
<text x="37" y="540">9</text>
<text x="36" y="522">1<tspan dx="-1.1">0</tspan></text>
<text x="36" y="505">1<tspan dx="-1.1">1</tspan></text>
<text x="36" y="488">1<tspan dx="-1.1">2</tspan></text>
<text x="36" y="470">1<tspan dx="-1.1">3</tspan></text>
<text x="36" y="453">1<tspan dx="-1.1">4</tspan></text>
<text x="36" y="436">1<tspan dx="-1.1">5</tspan></text>
<text x="36" y="418">1<tspan dx="-1.1">6</tspan></text>
<text x="36" y="401">1<tspan dx="-1.1">7</tspan></text>
<text x="36" y="384">1<tspan dx="-1.1">8</tspan></text>
<text x="36" y="366">1<tspan dx="-1.1">9</tspan></text>
<text x="36" y="349">2<tspan dx="-0.7">0</tspan></text>
<text x="36" y="332">2<tspan dx="-0.7">1</tspan></text>
<text x="36" y="314">2<tspan dx="-0.7">2</tspan></text>
<text x="36" y="297">2<tspan dx="-0.7">3</tspan></text>
<text x="36" y="280">2<tspan dx="-0.7">4</tspan></text>
<text x="36" y="262">2<tspan dx="-0.7">5</tspan></text>
<text x="36" y="245">2<tspan dx="-0.7">6</tspan></text>
<text x="36" y="228">2<tspan dx="-0.7">7</tspan></text>
<text x="36" y="210">2<tspan dx="-0.7">8</tspan></text>
<text x="36" y="193">2<tspan dx="-0.7">9</tspan></text>
<text x="36" y="175">3<tspan dx="-0.7">0</tspan></text>
<text x="36" y="158">3<tspan dx="-0.7">1</tspan></text>
<text x="36" y="141">3<tspan dx="-0.7">2</tspan></text>
<text x="36" y="123">3<tspan dx="-0.7">3</tspan></text>
<text x="36" y="106">3<tspan dx="-0.7">4</tspan></text>
<text x="36" y="89">3<tspan dx="-0.7">5</tspan></text>
<text x="36" y="71">3<tspan dx="-0.7">6</tspan></text>
<text x="36" y="54">3<tspan dx="-0.7">7</tspan></text>
</g>
<g font-family="'Liberation Serif', serif" font-size="13.33" text-anchor="middle" text-rendering="geometricPrecision">
<text x="59.5" y="708">1</text>
<text x="88.5" y="708">2</text>
<text x="117.5" y="708">3</text>
<text x="146.5" y="708">4</text>
<text x="175.5" y="708">5</text>
<text x="204.5" y="708">6</text>
<text x="233.5" y="708">7</text>
<text x="262.5" y="708">8</text>
<text x="291.5" y="708">9</text>
<text x="320.5" y="708">1<tspan dx="-1.1">0</tspan></text>
<text x="349.5" y="708">1<tspan dx="-1.1">1</tspan></text>
<text x="378.5" y="708">1<tspan dx="-1.1">2</tspan></text>
<text x="407.5" y="708">1<tspan dx="-1.1">3</tspan></text>
<text x="436.5" y="708">1<tspan dx="-1.1">4</tspan></text>
<text x="465.5" y="708">1<tspan dx="-1.1">5</tspan></text>
<text x="494.5" y="708">1<tspan dx="-1.1">6</tspan></text>
<text x="523.5" y="708">1<tspan dx="-1.1">7</tspan></text>
<text x="552.5" y="708">1<tspan dx="-1.1">8</tspan></text>
<text x="581.5" y="708">1<tspan dx="-1.1">9</tspan></text>
<text x="610.5" y="708">2<tspan dx="-0.7">0</tspan></text>
<text x="639.5" y="708">2<tspan dx="-0.7">1</tspan></text>
<text x="668.5" y="708">2<tspan dx="-0.7">2</tspan></text>
<text x="697.5" y="708">2<tspan dx="-0.7">3</tspan></text>
<text x="726.5" y="708">2<tspan dx="-0.7">4</tspan></text>
<text x="755.5" y="708">2<tspan dx="-0.7">5</tspan></text>
<text x="784.5" y="708">2<tspan dx="-0.7">6</tspan></text>
<text x="813.5" y="708">2<tspan dx="-0.7">7</tspan></text>
<text x="842.5" y="708">2<tspan dx="-0.7">8</tspan></text>
<text x="871.5" y="708">2<tspan dx="-0.7">9</tspan></text>
<text x="900.5" y="708">3<tspan dx="-0.7">0</tspan></text>
<text x="929.5" y="708">3<tspan dx="-0.7">1</tspan></text>
</g>
<text id="title" y="26.4" font-family="'Liberation Sans', sans-serif" font-size="19.95" xml:space="preserve"><tspan x="137.8">SOUTH </tspan><tspan x="213.4">PASS </tspan><tspan x="271.6">CITY </tspan><tspan x="322.6">Average </tspan><tspan x="400.8">and </tspan><tspan x="440.5">Extreme </tspan><tspan x="519.7">Daily </tspan><tspan x="570.2">Snowfalls </tspan><tspan x="660.8">in </tspan><tspan x="682.5">March </tspan><tspan x="742.7" letter-spacing="-0.2">(1900-2015)</tspan></text>
<text id="xl" y="721" font-family="'DejaVu Sans', 'Liberation Sans', sans-serif" font-size="15" stroke="#000" stroke-width="0.15"><tspan x="440.0" textLength="30.5">Day</tspan> <tspan x="477.1" textLength="17.06">of</tspan> <tspan x="498.14" textLength="50.14">Month</tspan></text>
<text id="yl" stroke="#000" stroke-width="0.15" transform="translate(16,439) rotate(-90)" font-family="'DejaVu Sans', 'Liberation Sans', sans-serif" font-size="15"><tspan x="-0.5" textLength="66.55">Snowfall</tspan> <tspan x="73.66" textLength="63.5">(Inches)</tspan></text>
<text id="lg1" y="734" font-family="'DejaVu Sans', 'Liberation Sans', sans-serif" font-size="12" stroke="#000" stroke-width="0.15"><tspan x="343.28" textLength="44.54">Record</tspan> <tspan x="393.28" textLength="56.9">Snowfall</tspan></text>
<g shape-rendering="crispEdges">
<rect x="457" y="726" width="45" height="8" fill="#fff"/><rect x="457" y="726" width="45" height="8" fill="url(#hatch)"/>
<path d="M458 727H501V733H458Z" fill="none" stroke="#960000" stroke-width="2"/>
<path d="M662 730H707" stroke="#ff2020" stroke-width="2"/>
</g>
<text id="lg2" y="734" font-family="'DejaVu Sans', 'Liberation Sans', sans-serif" font-size="12" stroke="#000" stroke-width="0.15"><tspan x="537.7" textLength="53.34">Average</tspan> <tspan x="596.28" textLength="57.22">Snowfall</tspan></text>
<path d="M683 726h2v1h2v2h1v2h-1v2h-2v1h-2v-1h-2v-2h-1v-2h1v-2h2z" fill="#ff2020" shape-rendering="crispEdges"/>
<text id="f1" x="7.5" y="748" font-family="'DejaVu Sans', 'Liberation Sans', sans-serif" font-size="10" textLength="552.5">Produced by the Wyoming Water Resources Data System/State Climate Office http://www.wrds.uwyo.edu</text>
<text id="f2" x="7.5" y="763" font-family="'DejaVu Sans', 'Liberation Sans', sans-serif" font-size="10" textLength="499.5">Data courtesy NOAA National Centers for Environmental Information http://www.ncei.noaa.gov</text>
<text id="f3" y="763" font-family="'DejaVu Sans', 'Liberation Sans', sans-serif" font-size="10" stroke="#000" stroke-width="0"><tspan x="828.92" textLength="44.22">Created:</tspan> <tspan x="877.1" textLength="67.76">26-Sep-2024</tspan></text>
</svg></body></html>
